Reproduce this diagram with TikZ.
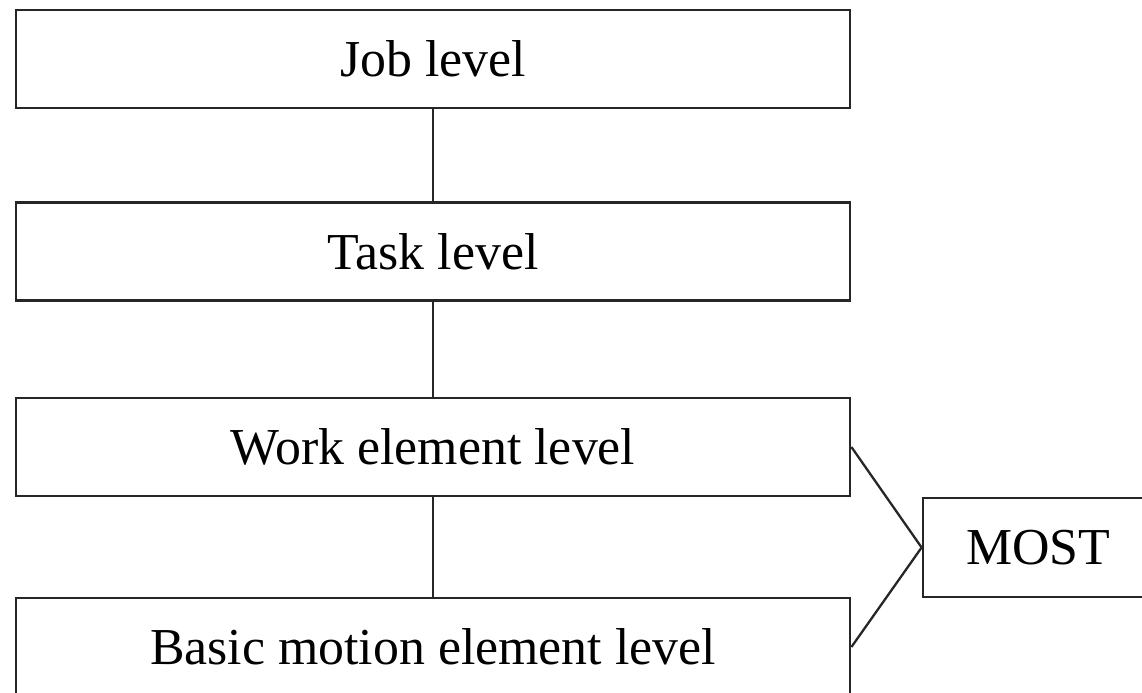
\documentclass[tikz,border=0pt]{standalone}
\usepackage{fontspec}
\setmainfont{Liberation Serif}
\usetikzlibrary{positioning}

\begin{document}
\begin{tikzpicture}[
          level/.style={rectangle, draw=black!85, line width=1.6pt, inner sep=0pt,
                        minimum width=16.68cm, minimum height=1.96cm,
                        font=\fontsize{29.5}{35}\selectfont},
          method/.style={level, minimum width=4.6cm, minimum height=1.98cm},
          link/.style={line width=1.3pt, black!85}
      ]
        \clip (0,0) rectangle (22.84,-13.86);
        \node[level]  (job)   at (8.66, -1.18)  {Job level};
        \node[level]  (task)  at (8.66, -5.03)  {Task level};
        \node[level]  (work)  at (8.66, -8.94)  {Work element level};
        \node[level]  (basic) at (8.66, -12.94) {Basic motion element level};
        \node[method] (most)  at (20.76, -10.95) {MOST};
        \draw[link] (job) -- (task);
        \draw[link] (task) -- (work);
        \draw[link] (work) -- (basic);
        \draw[link] (work.east) -- (most.west);
        \draw[link] (basic.east) -- (most.west);
      \end{tikzpicture}
\end{document}
